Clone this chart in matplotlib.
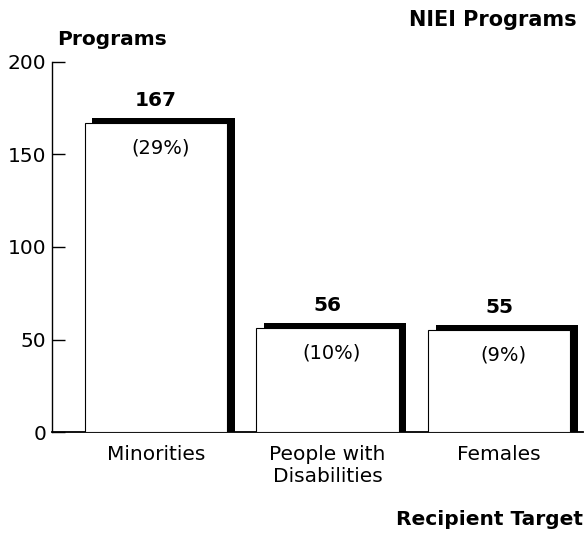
import numpy as np
import matplotlib.pyplot as plt

# datos del gráfico
categories = ["Minorities", "People with\nDisabilities", "Females"]
programs = [167, 56, 55]
shares = [29, 10, 9]  # % del total de programas
y_ticks = [0, 50, 100, 150, 200]

fig = plt.figure(figsize=(5.86, 5.40), dpi=100)
ax = fig.add_axes([52 / 586, 108 / 540, 531 / 586, 370 / 540])

x = np.arange(len(categories))
h = np.array(programs)
bar_w = 0.83

# sombra negra (desplazada arriba/derecha) y barra blanca encima
ax.bar(x + 0.045, h + 2.7, width=bar_w, color="black", linewidth=0, zorder=2)
ax.bar(x, h, width=bar_w, color="white", edgecolor="black", linewidth=0.8, zorder=3)

# etiquetas de valores y porcentajes
for xi, v, s in zip(x, programs, shares):
    ax.annotate(str(v), (xi, v + 2.7), xytext=(0, 8.6), textcoords="offset points",
                ha="center", va="baseline", fontsize=14.5, fontweight="bold", zorder=4)
    ax.annotate(f"({s}%)", (xi + 0.025, v), xytext=(0, -11), textcoords="offset points",
                ha="center", va="top", fontsize=14, zorder=4)

ax.set_xlim(-0.606, 2.49)
ax.set_ylim(0, 200)
ax.set_yticks(y_ticks)
ax.set_xticks(x)
ax.set_xticklabels(categories, fontsize=14.5)

ax.tick_params(axis="y", direction="in", length=9, width=1, labelsize=14.5, pad=4)
ax.tick_params(axis="x", length=0, pad=9)

for side in ["top", "right"]:
    ax.spines[side].set_visible(False)
ax.spines["left"].set_linewidth(1)
ax.spines["bottom"].set_linewidth(1.3)

# títulos
fig.text(57 / 586, 1 - 45 / 540, "Programs", ha="left", va="baseline",
         fontsize=14.5, fontweight="bold")
fig.text(577 / 586, 1 - 26 / 540, "NIEI Programs", ha="right", va="baseline",
         fontsize=15, fontweight="bold")
fig.text(583 / 586, 1 - 525 / 540, "Recipient Target", ha="right", va="baseline",
         fontsize=14.5, fontweight="bold")

fig.savefig("out.png", dpi=100)
plt.close(fig)
